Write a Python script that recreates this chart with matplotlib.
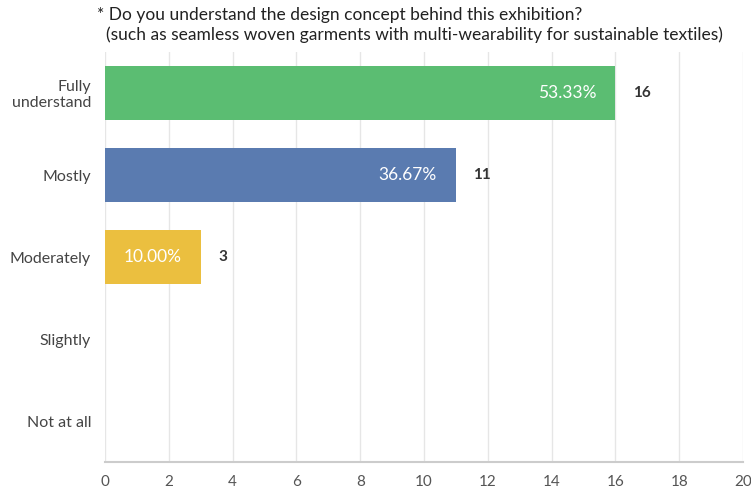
import matplotlib
matplotlib.use("Agg")
import matplotlib.pyplot as plt

categories = ["Fully\nunderstand", "Mostly", "Moderately", "Slightly", "Not at all"]
counts = [16, 11, 3, 0, 0]
percents = ["53.33%", "36.67%", "10.00%", "", ""]
colors = ["#5bbd72", "#5a7bb0", "#ebbf3f", "#cccccc", "#cccccc"]
xticks = list(range(0, 21, 2))
title = ("* Do you understand the design concept behind this exhibition?\n"
         "  (such as seamless woven garments with multi-wearability for sustainable textiles)")

plt.rcParams['font.family'] = ['Lato', 'DejaVu Sans']

fig = plt.figure(figsize=(7.51, 4.90), dpi=100)
ax = fig.add_axes([105 / 751, 1 - 462 / 490, 638 / 751, (462 - 52) / 490])

y = list(range(len(categories)))
ax.barh(y, counts, height=0.65, color=colors, zorder=3)
ax.set_ylim(len(categories) - 0.5, -0.5)
ax.set_xlim(0, 20)
ax.set_xticks(xticks)
ax.set_yticks(y)
ax.set_yticklabels(categories, fontsize=11.5, color="#444444", linespacing=1.1)
ax.tick_params(axis='x', labelsize=11, labelcolor="#555555", length=0, pad=9)
ax.tick_params(axis='y', length=0, pad=10)
ax.grid(axis='x', color="#e6e6e6", linewidth=1, zorder=0)
for s in ["top", "right", "left"]:
    ax.spines[s].set_visible(False)
ax.spines["bottom"].set_color("#cccccc")
ax.spines["bottom"].set_linewidth(1.5)

for yi, c, p in zip(y, counts, percents):
    if c > 0:
        ax.text(c - 0.6, yi, p, ha='right', va='center', color='white', fontsize=12.5, zorder=4)
        ax.text(c + 0.55, yi, str(c), ha='left', va='center', color='#333333',
                fontsize=11, fontweight='bold', zorder=4)

fig.text(97 / 751, 1 - 7 / 490, title, ha='left', va='top', fontsize=12.5,
         color="#222222", linespacing=1.25)

fig.savefig("out.png", dpi=100)
